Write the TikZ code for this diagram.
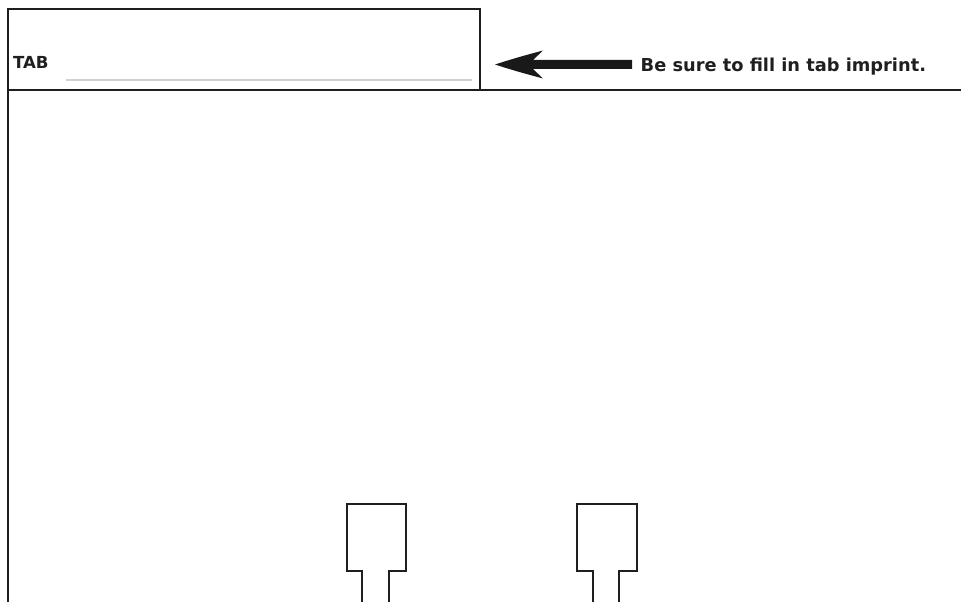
\documentclass[tikz,border=0pt]{standalone}
\usepackage{fontspec}
\newfontfamily\labelfont{DejaVu Sans}
\begin{document}
\begin{tikzpicture}[x=1pt,y=-1pt,
  frame/.style={draw=black!88,line width=2pt,line cap=butt,line join=miter},
  lbl/.style={inner sep=0pt,anchor=base west,text=black!88},
  fillline/.style={draw=black!18,line width=2pt},
  bigarrow/.style={fill=black!90,draw=none}]
\useasboundingbox (0,0) rectangle (961,602);
% frame and tab
\coordinate (bl) at (7.5,602);
\coordinate (tl) at (7.5,9);
\coordinate (tr) at (480,9);
\coordinate (tbr) at (480,90);
\coordinate (ml) at (7.5,90);
\coordinate (mr) at (961,90);
\draw[frame] (bl) -- (tl) -- (tr) -- (tbr);
\draw[frame] (ml) -- (mr);
% tab label and fill line
\node[lbl,font=\labelfont\bfseries\fontsize{16.6}{19}\selectfont] (tab) at (12.8,68.6) {TAB};
\coordinate (fl1) at (66,80);
\coordinate (fl2) at (472,80);
\draw[fillline] (fl1) -- (fl2);
% note and arrow
\node[lbl,font=\labelfont\bfseries\fontsize{17.8}{21}\selectfont] (note) at (640.5,71.3) {Be sure to fill in tab imprint.};
\coordinate (tip) at (495,64.5);
\fill[bigarrow] (tip) .. controls (515,58) and (530,54) .. (543,50.5)
  -- (533,60) -- (632,60) -- (632,69) -- (533,69) -- (543,78.5)
  .. controls (530,75) and (515,71) .. (tip) -- cycle;
% bottom shapes
\draw[frame] (362.3,602) -- (362.3,571) -- (346.7,571) -- (346.7,504) -- (405.7,504) -- (405.7,571) -- (389,571) -- (389,602);
\draw[frame] (593.3,602) -- (593.3,571) -- (576.7,571) -- (576.7,504) -- (636.7,504) -- (636.7,571) -- (619.3,571) -- (619.3,602);
\end{tikzpicture}
\end{document}
